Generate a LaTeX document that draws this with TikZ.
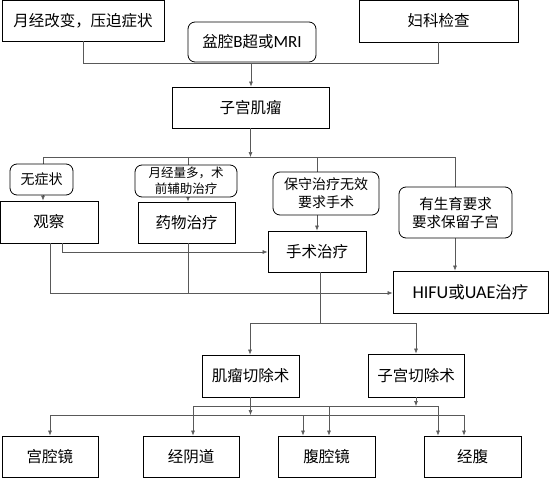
\documentclass[tikz,border=0pt]{standalone}
\usepackage{fontspec}
\setmainfont{Noto Sans CJK SC}
\newfontfamily\latfont[Scale=1.1]{Carlito}
\usetikzlibrary{arrows.meta}

\tikzset{
  box/.style={draw=black, line width=0.8pt, fill=white, inner sep=0pt, align=center,
    font=\fontsize{15.5}{18}\selectfont},
  rbox/.style={box, rounded corners=7pt},
  link/.style={draw=black!65, line width=0.6pt},
  arr/.style={link, -{Latex[length=5pt,width=4pt]}},
}

\begin{document}
\begin{tikzpicture}[x=1pt, y=-1pt]
\useasboundingbox (0,0) rectangle (555,479);
% boxes
\node[box, minimum width=162pt, minimum height=41pt] (mc) at (83,20.5) {月经改变，压迫症状};
\node[box, minimum width=159pt, minimum height=42pt] (gyn) at (438.5,21) {妇科检查};
\node[box, minimum width=157pt, minimum height=41pt] (um) at (250.5,107.5) {子宫肌瘤};
\node[box, minimum width=98pt, minimum height=42pt] (obs) at (49,222) {观察};
\node[box, minimum width=97pt, minimum height=41pt] (drug) at (186.5,222.5) {药物治疗};
\node[box, minimum width=98pt, minimum height=41pt] (surg) at (317,251.5) {手术治疗};
\node[box, minimum width=155pt, minimum height=42pt, font=\fontsize{16.5}{18}\selectfont] (hifu) at (470.5,292) {{\latfont HIFU}或{\latfont UAE}治疗};
\node[box, minimum width=97pt, minimum height=42pt] (myo) at (250.5,376) {肌瘤切除术};
\node[box, minimum width=96pt, minimum height=43pt] (hyst) at (416,375.5) {子宫切除术};
\node[box, minimum width=96pt, minimum height=41pt] (hys) at (50,456.5) {宫腔镜};
\node[box, minimum width=96pt, minimum height=41pt] (vag) at (191,456.5) {经阴道};
\node[box, minimum width=97pt, minimum height=41pt] (lap) at (326.5,456.5) {腹腔镜};
\node[box, minimum width=97pt, minimum height=41pt] (abd) at (472.5,456.5) {经腹};

% top
\coordinate (jl) at (83,63);
\coordinate (jr) at (438,63);
\coordinate (jc) at (251,63);
\draw[link] (mc.south -| jl) -- (jl) -- (jr) -- (jr |- gyn.south);
\draw[arr] (jc) -- (jc |- um.north);
\node[rbox, minimum width=128pt, minimum height=40pt] (img) at (252,42)
  {盆腔{\latfont B}超或{\latfont MRI}};

% branches
\coordinate (s1) at (43,157);
\coordinate (s2) at (455,157);
\coordinate (s3) at (188,157);
\coordinate (s4) at (317,157);
\draw[link] (s1) -- (s2);
\draw[arr] (um.south) -- (um.south |- s1);
\draw[arr] (s1) -- (s1 |- obs.north);
\draw[arr] (s3) -- (s3 |- drug.north);
\draw[arr] (s4) -- (s4 |- surg.north);
\draw[arr] (s2) -- (s2 |- hifu.north);

\coordinate (o1) at (62,252);
\coordinate (o2) at (50,293);
\draw[arr] (obs.south -| o1) -- (o1) -- (o1 -| surg.west);
\draw[arr] (obs.south -| o2) -- (o2) -- (o2 -| hifu.west);
\draw[link] (drug.south -| s3) -- (s3 |- o2);

\node[rbox, minimum width=63pt, minimum height=31pt, font=\fontsize{14}{17}\selectfont] (nosym) at (41.5,179.5) {无症状};
\node[rbox, minimum width=102pt, minimum height=32pt, font=\fontsize{12.5}{16}\selectfont] (menor) at (186,181) {月经量多，术\\前辅助治疗};
\node[rbox, minimum width=106pt, minimum height=43pt, font=\fontsize{14}{18}\selectfont] (cons) at (326,193.5) {保守治疗无效\\要求手术};
\node[rbox, minimum width=113pt, minimum height=51pt, font=\fontsize{14.5}{18}\selectfont] (fert) at (455.5,212.5) {有生育要求\\要求保留子宫};

% surgery
\coordinate (t1) at (320,323);
\coordinate (t2) at (250,323);
\coordinate (t3) at (416,323);
\draw[link] (surg.south -| t1) -- (t1);
\draw[link] (t2) -- (t3);
\draw[arr] (t2) -- (t2 |- myo.north);
\draw[arr] (t3) -- (t3 |- hyst.north);

\coordinate (u1) at (193,406);
\coordinate (u2) at (438,406);
\coordinate (u3) at (329,406);
\coordinate (v1) at (50,415);
\coordinate (v2) at (464,415);
\coordinate (v3) at (303,415);
\draw[link] (u1) -- (u2);
\draw[link] (v1) -- (v2);
\draw[arr] (hyst.south) -- (hyst.south |- u1);
\draw[arr] (myo.south) -- (myo.south |- v1);
\draw[arr] (v1) -- (v1 |- hys.north);
\draw[arr] (u1) -- (u1 |- vag.north);
\draw[arr] (v3) -- (v3 |- lap.north);
\draw[arr] (u3) -- (u3 |- lap.north);
\draw[arr] (u2) -- (u2 |- abd.north);
\draw[arr] (v2) -- (v2 |- abd.north);
\end{tikzpicture}
\end{document}
